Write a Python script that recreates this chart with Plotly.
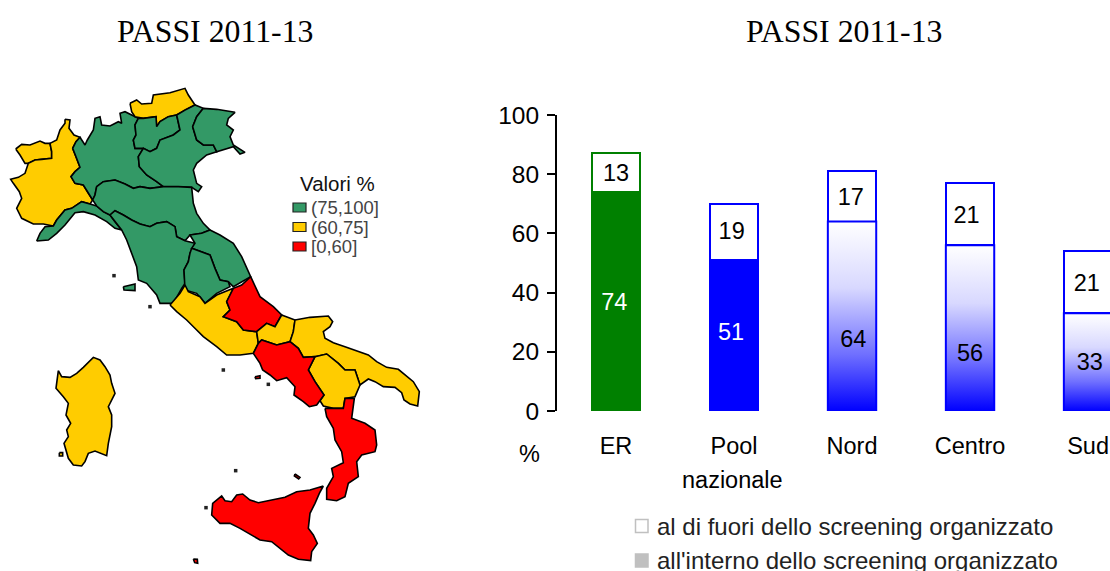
import plotly.graph_objects as go

W, H = 1110, 571
TITLE = "PASSI 2011-13"
categories = ["ER", "Pool", "Nord", "Centro", "Sud"]
interno = [74, 51, 64, 56, 33]
fuori = [13, 19, 17, 21, 21]
interno_label_height = [36, 26, 23.7, 19, 16]
fuori_label_height = [79.7, 60.2, 71.6, 65.6, 42.6]
interno_label_shift = [-0.015, -0.025, 0.01, 0, 0.015]
fuori_label_shift = [0, -0.02, -0.01, -0.03, -0.01]
interno_fill = ["#008000", "#0000FF", "#FFFFFF", "#FFFFFF", "#FFFFFF"]
bar_edge = ["#008000", "#0000FF", "#0000FF", "#0000FF", "#0000FF"]
interno_label_color = ["#FFFFFF", "#FFFFFF", "#000000", "#000000", "#000000"]
y_ticks = [0, 20, 40, 60, 80, 100]
legend_bar = ["al di fuori dello screening organizzato", "all'interno dello screening organizzato"]
map_classes = ["(75,100]", "(60,75]", "[0,60]"]
map_colors = {"(75,100]": "#339966", "(60,75]": "#FFCC00", "[0,60]": "#FF0000"}

# Region outlines, in map units (3 units per screen pixel)
north = {
 "Valle d'Aosta": ("(60,75]", [(47,207),(65,193),(90,195),(120,183),(135,190),(150,190),(155,215),(155,235),(125,238),(105,240),(85,250),(75,250),(60,225)]),
 "Piemonte": ("(60,75]", [(195,118),(210,120),(207,145),(222,165),(240,172),(228,185),(218,205),(228,230),(240,262),(225,275),(213,290),(225,310),(250,315),(262,335),(278,360),(270,372),(245,365),(215,385),(195,390),(170,420),(160,438),(130,432),(100,432),(65,415),(50,385),(65,355),(58,335),(40,310),(32,298),(55,292),(75,280),(85,250),(105,240),(125,238),(155,235),(155,215),(150,190),(170,180),(180,150),(195,130)]),
 "Liguria": ("(75,100]", [(110,483),(120,460),(135,440),(160,438),(170,420),(195,390),(215,385),(245,365),(270,372),(290,378),(310,395),(330,405),(345,425),(365,450),(345,445),(320,425),(285,405),(250,395),(225,398),(195,435),(170,460),(145,480)]),
 "Lombardia": ("(75,100]", [(218,205),(228,185),(240,172),(255,195),(262,180),(280,150),(285,115),(300,110),(305,135),(330,138),(355,125),(365,130),(360,100),(375,95),(395,105),(415,115),(405,135),(408,165),(400,180),(405,205),(430,205),(415,230),(418,260),(440,285),(470,305),(490,320),(450,325),(420,320),(400,325),(375,312),(345,300),(310,305),(290,320),(285,345),(278,360),(262,335),(250,315),(225,310),(213,290),(225,275),(240,262),(228,230)]),
 "Alto Adige": ("(60,75]", [(390,70),(410,60),(425,72),(455,70),(460,45),(510,38),(555,25),(565,45),(585,75),(555,90),(530,105),(505,110),(480,125),(470,140),(468,110),(430,115),(405,110),(395,95)]),
 "Trentino": ("(75,100]", [(415,115),(430,115),(468,110),(470,140),(480,125),(505,110),(530,105),(540,150),(520,165),(480,180),(470,205),(450,215),(430,205),(405,205),(400,180),(408,165),(405,135)]),
 "Veneto": ("(75,100]", [(530,105),(555,90),(585,75),(610,85),(590,110),(578,140),(590,180),(610,195),(640,195),(650,215),(620,225),(590,250),(580,270),(590,310),(605,320),(595,335),(575,322),(535,320),(490,320),(470,305),(440,285),(418,260),(415,230),(430,205),(450,215),(470,205),(480,180),(520,165),(540,150)]),
 "Friuli": ("(75,100]", [(610,85),(650,88),(705,97),(685,115),(680,135),(700,150),(690,170),(700,195),(735,217),(720,222),(700,200),(650,215),(640,195),(610,195),(590,180),(578,140),(590,110)]),
 "Emilia-Romagna": ("(75,100]", [(290,320),(310,305),(345,300),(375,312),(400,325),(420,320),(450,325),(490,320),(535,320),(575,322),(580,370),(590,400),(610,430),(630,450),(605,460),(570,465),(555,482),(530,470),(525,440),(500,425),(470,430),(450,440),(420,432),(395,420),(370,405),(345,392),(330,405),(310,395),(290,378),(278,360),(285,345)]),
 "Toscana": ("(75,100]", [(330,405),(345,392),(370,405),(395,420),(420,432),(450,440),(470,430),(500,425),(525,440),(530,470),(555,482),(585,490),(570,520),(565,545),(552,570),(555,610),(545,625),(520,670),(480,670),(470,645),(440,610),(415,600),(410,560),(390,510),(380,480),(365,450),(345,425)]),
 "Marche": ("(75,100]", [(630,450),(660,465),(700,490),(725,530),(752,590),(700,620),(685,605),(660,600),(645,565),(630,525),(590,510),(575,505),(585,490),(570,465),(605,460)]),
 "Umbria": ("(75,100]", [(575,505),(590,510),(630,525),(645,565),(660,600),(685,605),(690,620),(650,640),(615,670),(590,640),(555,630),(552,570),(565,545),(570,520)]),
 "Elba": ("(75,100]", [(370,620),(405,612),(405,632),(372,630)]),
}
south = {
 "Lazio": ("(60,75]", [(390,75),(420,40),(435,15),(445,35),(480,50),(495,70),(530,45),(565,30),(580,25),(560,65),(570,90),(550,110),(590,125),(610,150),(650,155),(655,190),(640,220),(600,225),(560,225),(530,200),(490,170),(470,150),(440,120),(410,95)]),
 "Abruzzo": ("[0,60]", [(632,-10),(660,50),(700,80),(725,105),(705,140),(680,130),(650,155),(610,150),(590,125),(550,110),(570,90),(560,65),(580,25),(605,15)]),
 "Molise": ("(60,75]", [(725,105),(765,120),(760,155),(750,185),(710,195),(665,180),(655,190),(650,155),(680,130),(705,140)]),
 "Puglia": ("(60,75]", [(765,120),(810,112),(865,108),(878,125),(870,140),(850,155),(855,175),(880,188),(915,200),(960,215),(985,225),(1010,245),(1040,262),(1075,268),(1095,285),(1120,305),(1138,335),(1133,378),(1110,372),(1092,360),(1085,338),(1065,322),(1030,320),(1005,305),(985,297),(960,315),(945,270),(915,270),(895,250),(860,222),(825,230),(790,232),(775,205),(750,185),(760,155)]),
 "Basilicata": ("(60,75]", [(825,230),(860,222),(895,250),(915,270),(945,270),(960,315),(945,350),(915,355),(910,385),(880,385),(850,378),(840,362),(852,345),(825,305),(805,270)]),
 "Campania": ("[0,60]", [(640,220),(655,190),(665,180),(710,195),(750,185),(775,205),(790,232),(825,230),(805,270),(825,305),(852,345),(830,375),(808,380),(790,365),(762,345),(765,320),(740,293),(710,302),(690,285),(668,270),(660,250)]),
 "Calabria": ("[0,60]", [(855,385),(880,385),(910,385),(915,355),(943,355),(935,415),(975,430),(1005,450),(1010,495),(1005,515),(965,525),(950,545),(955,590),(925,610),(915,650),(890,662),(860,658),(860,625),(880,590),(875,565),(910,548),(905,515),(885,480),(880,445),(860,410)]),
 "Sicilia": ("[0,60]", [(850,618),(838,640),(825,670),(810,700),(805,745),(820,765),(832,790),(815,815),(812,842),(775,838),(745,825),(720,805),(695,785),(660,780),(635,765),(600,745),(570,730),(540,730),(515,705),(518,670),(545,648),(555,662),(575,665),(590,645),(608,642),(630,660),(655,668),(700,660),(735,652),(770,635),(810,630)]),
 "Sardegna": ("(60,75]", [(55,272),(52,290),(48,325),(70,350),(85,370),(78,405),(85,420),(92,430),(80,450),(85,470),(72,490),(78,515),(85,535),(100,555),(125,558),(135,545),(145,520),(165,513),(200,527),(205,490),(215,440),(215,405),(205,380),(225,340),(215,310),(210,285),(195,260),(180,240),(160,232),(130,262),(110,280),(90,292),(65,290)]),
 "Sant'Antioco": ("(60,75]", [(58,518),(68,518),(68,528),(58,528)]),
 "Ischia": ("[0,60]", [(645,290),(660,287),(660,295),(647,296)]),
 "Lipari": ("[0,60]", [(765,582),(780,592),(776,597),(763,588)]),
 "Pantelleria": ("[0,60]", [(460,837),(472,838),(473,850),(464,848)]),
}
islets_north = [(342, 587), (450, 680)]
islets_south = [(550, 270), (685, 313), (587, 572), (498, 683)]
SOUTH_DX, SOUTH_DY = 120, 600


def px(x):
    return x / W


def py(y):
    return 1 - y / H


fig = go.Figure()

# ---------- bar chart ----------
bar_w = 0.41
xpos = list(range(len(categories)))
fig.add_trace(go.Bar(x=xpos, y=interno, name=legend_bar[1], width=bar_w, xaxis="x", yaxis="y",
                     marker=dict(color=interno_fill, line=dict(color=bar_edge, width=2)), showlegend=False))
fig.add_trace(go.Bar(x=xpos, y=fuori, name=legend_bar[0], width=bar_w, xaxis="x", yaxis="y",
                     marker=dict(color="#FFFFFF", line=dict(color=bar_edge, width=2)), showlegend=False))
for i, v in enumerate(interno):
    if interno_fill[i] == "#FFFFFF":
        fig.add_trace(go.Scatter(
            x=[i - bar_w / 2, i + bar_w / 2, i + bar_w / 2, i - bar_w / 2, i - bar_w / 2],
            y=[0, 0, v, v, 0], mode="lines", fill="toself", xaxis="x", yaxis="y",
            line=dict(color="#0000FF", width=2), showlegend=False, hoverinfo="skip",
            fillgradient=dict(type="vertical", colorscale=[[0, "#0000FF"], [0.3, "#7070FF"], [0.65, "#D8D8FF"], [1, "#FFFFFF"]])))
fig.add_trace(go.Scatter(x=[i + d for i, d in zip(xpos, interno_label_shift)], y=interno_label_height,
                         text=[str(v) for v in interno], mode="text",
                         textfont=dict(family="Liberation Sans", size=23.5, color=interno_label_color),
                         xaxis="x", yaxis="y", showlegend=False))
fig.add_trace(go.Scatter(x=[i + d for i, d in zip(xpos, fuori_label_shift)], y=fuori_label_height,
                         text=[str(v) for v in fuori], mode="text",
                         textfont=dict(family="Liberation Sans", size=23.5, color="#000000"),
                         xaxis="x", yaxis="y", showlegend=False))

# ---------- map ----------
def add_region(name, cls, pts, dx=0, dy=0):
    fig.add_trace(go.Scatter(x=[p[0] + dx for p in pts] + [pts[0][0] + dx],
                             y=[p[1] + dy for p in pts] + [pts[0][1] + dy],
                             mode="lines", fill="toself", fillcolor=map_colors[cls], name=name,
                             line=dict(color="#000000", width=1.6), xaxis="x2", yaxis="y2",
                             showlegend=False, hoverinfo="name"))


for name, (cls, pts) in north.items():
    add_region(name, cls, pts)
for name, (cls, pts) in south.items():
    add_region(name, cls, pts, SOUTH_DX, SOUTH_DY)
fig.add_trace(go.Scatter(x=[p[0] for p in islets_north] + [p[0] + SOUTH_DX for p in islets_south],
                         y=[p[1] for p in islets_north] + [p[1] + SOUTH_DY for p in islets_south],
                         mode="markers", marker=dict(color="#222222", size=3.5, symbol="square"),
                         xaxis="x2", yaxis="y2", showlegend=False, hoverinfo="skip"))

annotations = []
shapes = []


def note(text, x, y, size, family="Liberation Sans", color="#000000", xanchor="center"):
    annotations.append(dict(text=text, x=px(x), y=py(y), xref="paper", yref="paper", showarrow=False,
                            xanchor=xanchor, yanchor="middle", font=dict(family=family, size=size, color=color)))


note(TITLE, 215, 31, 31.8, "Liberation Serif")
note(TITLE, 844, 31, 31.8, "Liberation Serif")
note("%", 529, 454, 23.5)
note("nazionale", 732, 480, 23.5)
note("Valori %", 337, 183, 20.5, color="#111111")
for cls, ymid in zip(map_classes, [207.5, 227, 246.5]):
    note(cls, 309, ymid, 18.5, color="#444444", xanchor="left")
    shapes.append(dict(type="rect", xref="paper", yref="paper", x0=px(293), x1=px(306), y0=py(ymid - 4.5),
                       y1=py(ymid + 4.5), fillcolor=map_colors[cls], line=dict(color="#222222", width=1.2)))
for label, ymid, fillc in zip(legend_bar, [526, 560.5], ["#FFFFFF", "#C0C0C0"]):
    note(label, 655, ymid, 24, color="#222222", xanchor="left")
    shapes.append(dict(type="rect", xref="paper", yref="paper", x0=px(635.5), x1=px(648), y0=py(ymid - 6.5),
                       y1=py(ymid + 6.5), fillcolor=fillc, line=dict(color="#C0C0C0", width=1.5)))

fig.update_layout(
    width=W, height=H, autosize=False, margin=dict(l=0, r=0, t=0, b=0, autoexpand=False),
    paper_bgcolor="#FFFFFF", plot_bgcolor="rgba(0,0,0,0)", barmode="stack", showlegend=False,
    annotations=annotations, shapes=shapes,
    xaxis=dict(domain=[px(557), 1], range=[-0.5, 4.186], tickmode="array", tickvals=xpos, ticktext=categories,
               showgrid=False, zeroline=False, showline=False, ticks="", ticklabelstandoff=18, automargin=False,
               tickfont=dict(family="Liberation Sans", size=23.5, color="#000000"), anchor="y"),
    yaxis=dict(domain=[py(411), py(115)], range=[0, 100], tickmode="array", tickvals=y_ticks, automargin=False,
               showgrid=False, zeroline=False, showline=True, linecolor="#000000", linewidth=2,
               ticks="outside", ticklen=8, tickwidth=2, tickcolor="#000000", ticklabelstandoff=3,
               tickfont=dict(family="Liberation Sans", size=24.5, color="#000000"), anchor="x"),
    xaxis2=dict(domain=[0, px(480)], range=[0, 1440], visible=False, anchor="y2", automargin=False),
    yaxis2=dict(domain=[0, py(80)], range=[1473, 0], visible=False, anchor="x2", automargin=False),
)

fig.write_html("out.html", config={"displayModeBar": False},
               post_script="document.body.style.margin='0';document.documentElement.style.overflow='hidden';")
